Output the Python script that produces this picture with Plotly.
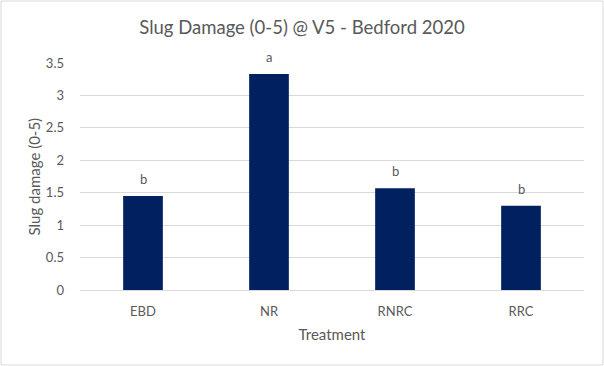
import plotly.graph_objects as go

treatments = ["EBD", "NR", "RNRC", "RRC"]
damage = [1.45, 3.33, 1.57, 1.30]
letters = ["b", "a", "b", "b"]
tick_vals = [0, 0.5, 1, 1.5, 2, 2.5, 3, 3.5]
tick_text = ["0", "0.5", "1", "1.5", "2", "2.5", "3", "3.5"]

FONT = "Lato"
GREY = "#595959"

fig = go.Figure()
fig.add_trace(go.Bar(
    x=treatments, y=damage, width=0.315,
    marker=dict(color="#002060", line=dict(width=0)),
    hoverinfo="x+y",
))

for t, v, l in zip(treatments, damage, letters):
    fig.add_annotation(x=t, y=v, text=l, showarrow=False, yanchor="bottom",
                       yshift=7, font=dict(family=FONT, size=13, color=GREY))

fig.add_annotation(xref="paper", yref="paper", x=-47 / 504, y=0.5, text="Slug damage (0-5)",
                   textangle=-90, showarrow=False, xanchor="center", yanchor="middle",
                   font=dict(family=FONT, size=15, color=GREY))

fig.update_layout(
    width=604, height=366,
    margin=dict(l=80, r=20, t=63, b=76),
    paper_bgcolor="white", plot_bgcolor="white",
    showlegend=False,
    title=dict(text="Slug Damage (0-5) @ V5 - Bedford 2020", x=0.5, xanchor="center",
               y=1 - 28 / 366, yanchor="middle",
               font=dict(family=FONT, size=18.5, color=GREY)),
    bargap=0.685,
    xaxis=dict(showgrid=False, showline=True, linecolor="#d9d9d9", linewidth=1,
               ticks="", ticklabelstandoff=9,
               tickfont=dict(family=FONT, size=13, color=GREY),
               title=dict(text="Treatment", font=dict(family=FONT, size=15, color=GREY), standoff=11)),
    yaxis=dict(range=[0, 3.5], tickvals=tick_vals, ticktext=tick_text,
               showgrid=True, gridcolor="#d9d9d9", gridwidth=1, zeroline=False,
               showline=False, ticks="", ticklabelstandoff=15,
               tickfont=dict(family=FONT, size=13, color=GREY)),
    shapes=[dict(type="rect", xref="paper", yref="paper", x0=-79/504, x1=1+19/504,
                 y0=-75/227, y1=1+62/227, line=dict(color="#d9d9d9", width=1))],
)

fig.write_html("out.html", post_script="document.body.style.margin='0';",
               config={"displayModeBar": False})
